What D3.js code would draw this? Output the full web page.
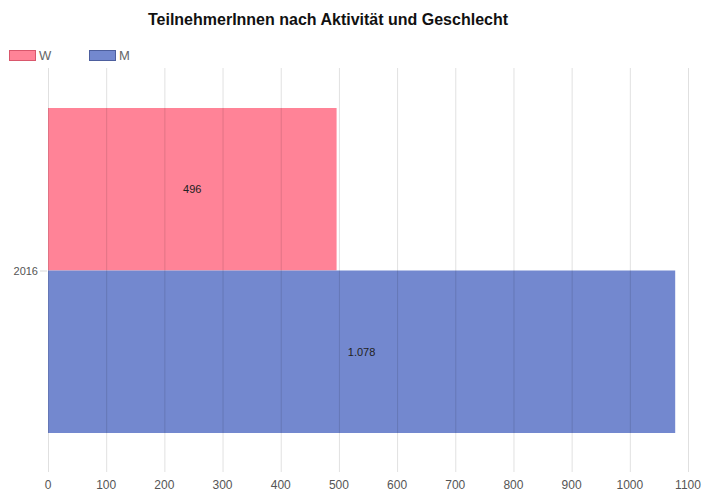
<!DOCTYPE html>
<html lang="de">
<head>
    <meta charset="UTF-8">
    <title>TeilnehmerInnen</title>
    <script src="https://d3js.org/d3.v7.min.js"></script>
    <style>
        body { margin: 0; background: white; }
        text { font-family: "Liberation Sans", Arial, sans-serif; fill: #333; }
    </style>
</head>
<body>
<svg width="707" height="493"></svg>

<script>
    const years = ["2016"];
    const series = ["W", "M"];
    const valuesW = [496];
    const valuesM = [1078];
    const xTicks = [0, 100, 200, 300, 400, 500, 600, 700, 800, 900, 1000, 1100];

    const colors = {W: "#ff8397", M: "#7388cf"};
    const borders = {W: "#d9576c", M: "#4d5f9e"};

    const svg = d3.select("svg");

    const x = d3.scaleLinear().domain([0, 1100]).range([48, 688]);
    const y = d3.scaleBand().domain(years).range([108, 433]);
    const sub = d3.scaleBand().domain(series).range([0, y.bandwidth()]);

    const fmt = d3.formatLocale({decimal: ",", thousands: ".", grouping: [3], currency: ["", "€"]}).format(",");

    // title
    svg.append("text")
        .attr("x", 328).attr("y", 25)
        .attr("text-anchor", "middle")
        .style("font-size", "16px")
        .style("font-weight", "bold")
        .style("fill", "#111")
        .text("TeilnehmerInnen nach Aktivität und Geschlecht");

    // legend
    const legend = svg.append("g");
    const legendX = {W: 9, M: 89};
    series.forEach(s => {
        legend.append("rect")
            .attr("x", legendX[s] + 0.5).attr("y", 50.5)
            .attr("width", 26).attr("height", 10)
            .style("fill", colors[s])
            .style("stroke", borders[s]);
        legend.append("text")
            .attr("x", legendX[s] + 30).attr("y", 60)
            .style("font-size", "13px")
            .style("fill", "#666")
            .text(s);
    });

    // bars
    const rows = years.map((yr, i) => ({year: yr, W: valuesW[i], M: valuesM[i]}));
    rows.forEach(r => {
        series.forEach(s => {
            svg.append("rect")
                .attr("x", x(0))
                .attr("y", y(r.year) + sub(s))
                .attr("width", x(r[s]) - x(0))
                .attr("height", sub.bandwidth())
                .style("fill", colors[s]);
            svg.append("text")
                .attr("x", (x(0) + x(r[s])) / 2)
                .attr("y", y(r.year) + sub(s) + sub.bandwidth() / 2 + 4)
                .attr("text-anchor", "middle")
                .style("font-size", "11px")
                .style("fill", "#222")
                .text(fmt(r[s]));
        });
    });

    // grid lines (drawn over bars, translucent)
    svg.append("g")
        .selectAll("line")
        .data(xTicks)
        .enter()
        .append("line")
        .attr("x1", d => x(d) + 0.5).attr("x2", d => x(d) + 0.5)
        .attr("y1", 68).attr("y2", 472)
        .style("stroke", "rgba(0,0,0,0.12)")
        .style("stroke-width", 1);

    // x tick labels
    svg.append("g")
        .selectAll("text")
        .data(xTicks)
        .enter()
        .append("text")
        .attr("x", d => x(d))
        .attr("y", 489)
        .attr("text-anchor", "middle")
        .style("font-size", "12px")
        .style("fill", "#555")
        .text(d => d);

    // y axis label + tick
    years.forEach(yr => {
        const cy = y(yr) + y.bandwidth() / 2;
        svg.append("line")
            .attr("x1", 40).attr("x2", 47)
            .attr("y1", cy + 0.5).attr("y2", cy + 0.5)
            .style("stroke", "rgba(0,0,0,0.15)");
        svg.append("text")
            .attr("x", 38).attr("y", cy + 4)
            .attr("text-anchor", "end")
            .style("font-size", "11px")
            .style("fill", "#555")
            .text(yr);
    });
</script>

</body>
</html>
